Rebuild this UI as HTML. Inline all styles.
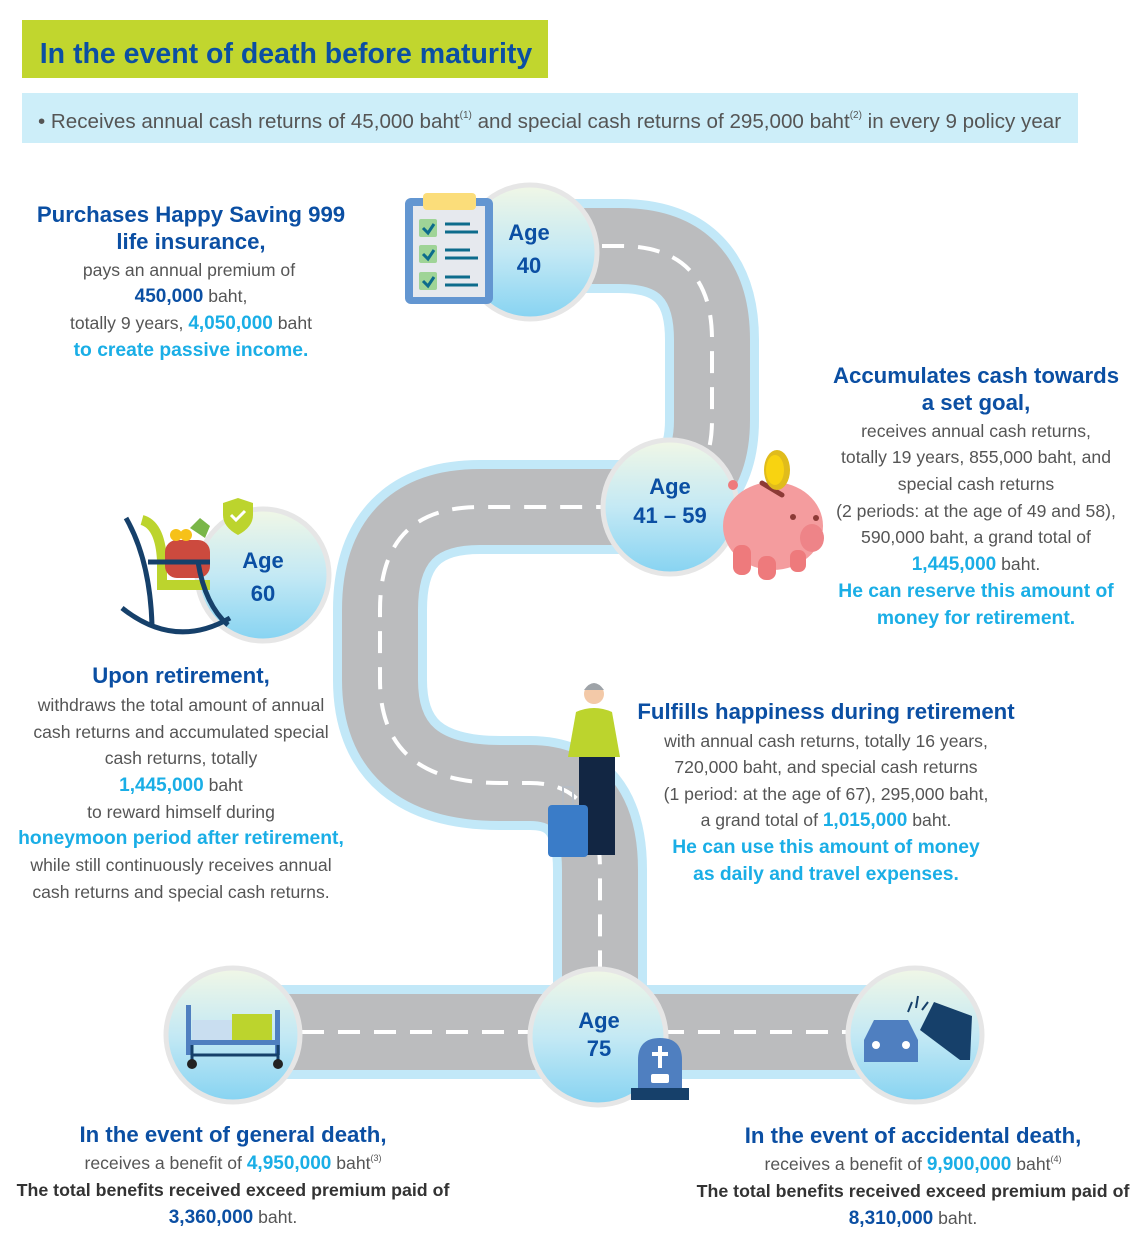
<!DOCTYPE html>
<html><head><meta charset="utf-8">
<style>
html,body{margin:0;padding:0;background:#fff;}
svg{display:block;font-family:"Liberation Sans",sans-serif;}
.h{font-weight:bold;fill:#0b4fa3;font-size:22.2px;}
.g{fill:#555;font-size:17.6px;}
.b{font-weight:bold;fill:#0b4fa3;}
.c{font-weight:bold;fill:#1aaee6;font-size:19.3px;}
.k{font-weight:bold;fill:#333;font-size:17.8px;}
.age{font-weight:bold;fill:#0b4fa3;font-size:22px;}
.n{font-weight:bold;fill:#1aaee6;font-size:19px;}
</style></head>
<body>
<svg width="1140" height="1250" viewBox="0 0 1140 1250">
<defs>
<linearGradient id="cg" x1="0" y1="0" x2="0" y2="1">
<stop offset="0" stop-color="#f1f7e6"/><stop offset="0.5" stop-color="#c4e9f4"/><stop offset="1" stop-color="#86d3f2"/>
</linearGradient>
</defs>
<rect x="22" y="20" width="526" height="58" fill="#c1d62e"/>
<text x="286" y="63" text-anchor="middle" style="font-weight:bold;font-size:28.5px;fill:#0b4fa3">In the event of death before maturity</text>
<rect x="22" y="93" width="1056" height="50" fill="#cdeef9"/>
<text x="38" y="128" style="font-size:20.6px;fill:#555">• Receives annual cash returns of 45,000 baht<tspan font-size="10" dy="-10">(1)</tspan><tspan dy="10"> and special cash returns of 295,000 baht</tspan><tspan font-size="10" dy="-10">(2)</tspan><tspan dy="10"> in every 9 policy year</tspan></text>

<g fill="none" stroke-linejoin="round">
<path id="road" d="M530 246 H620 Q712 246 712 340 V420 Q712 507 620 507 H480 Q380 507 380 610 V680 Q380 783 500 783 H530 Q600 783 600 870 V1032 M230 1032 H950"/>
<use href="#road" stroke="#c2e8f8" stroke-width="94"/>
<use href="#road" stroke="#bbbcbe" stroke-width="76"/>
<use href="#road" stroke="#fff" stroke-width="4" stroke-dasharray="22 14"/>
</g>

<g stroke="#e6e6e6" stroke-width="5" fill="url(#cg)">
<circle cx="530" cy="252" r="67"/>
<circle cx="670" cy="507" r="67"/>
<circle cx="263" cy="575" r="66"/>
<circle cx="598" cy="1037" r="68"/>
<circle cx="233" cy="1035" r="67"/>
<circle cx="915" cy="1035" r="67"/>
</g>
<text x="529" y="240" text-anchor="middle" class="age">Age</text>
<text x="529" y="273" text-anchor="middle" class="age">40</text>
<text x="670" y="494" text-anchor="middle" class="age">Age</text>
<text x="670" y="523" text-anchor="middle" class="age">41 – 59</text>
<text x="263" y="568" text-anchor="middle" class="age">Age</text>
<text x="263" y="601" text-anchor="middle" class="age">60</text>
<text x="599" y="1028" text-anchor="middle" class="age">Age</text>
<text x="599" y="1056" text-anchor="middle" class="age">75</text>

<rect x="405" y="198" width="88" height="106" rx="6" fill="#6396d1"/>
<rect x="413" y="206" width="72" height="91" fill="#e6e9ee"/>
<rect x="423" y="193" width="53" height="17" rx="4" fill="#fbdd7a"/>
<g fill="#9fd497"><rect x="419" y="219" width="18" height="18" rx="2"/><rect x="419" y="245" width="18" height="18" rx="2"/><rect x="419" y="272" width="18" height="18" rx="2"/></g>
<g stroke="#0d6c8c" stroke-width="3" fill="none"><path d="M423 228l5 5 6-9M423 254l5 5 6-9M423 281l5 5 6-9"/>
<path d="M445 224h25M445 232h33M445 250h25M445 258h33M445 277h25M445 285h33"/></g>

<ellipse cx="773" cy="526" rx="50" ry="44" fill="#f49c9e"/>
<rect x="733" y="545" width="18" height="30" rx="8" fill="#ee7a7c"/>
<rect x="758" y="556" width="18" height="24" rx="8" fill="#ee7a7c"/>
<rect x="790" y="550" width="16" height="22" rx="7" fill="#ee7a7c"/>
<ellipse cx="812" cy="538" rx="12" ry="14" fill="#ee8488"/>
<circle cx="793" cy="517" r="3" fill="#8c3a36"/><circle cx="816" cy="518" r="3" fill="#8c3a36"/>
<path d="M762 483 L782 495" stroke="#8c3a36" stroke-width="5" stroke-linecap="round"/>
<ellipse cx="777" cy="470" rx="13" ry="20" fill="#e0bc1c"/><ellipse cx="775" cy="470" rx="9" ry="15" fill="#f8d311"/>
<circle cx="733" cy="485" r="5" fill="#ee7a7c"/>

<path d="M142 520 Q160 525 162 560 V585 H210" stroke="#bcd42d" stroke-width="10" fill="none"/>
<rect x="165" y="540" width="45" height="38" rx="12" fill="#cc4a3e"/>
<circle cx="176" cy="535" r="6" fill="#f6c118"/><circle cx="186" cy="535" r="6" fill="#f6c118"/>
<path d="M190 528 l10-10 10 8 -5 12z" fill="#7ab648"/>
<g stroke="#16406a" stroke-width="5" fill="none">
<path d="M126 518 Q150 560 152 625 M148 562 H210 M198 562 Q205 605 228 625 M122 608 Q175 650 230 618"/>
</g>
<path d="M223 503 l15-5 15 5 v12 q0 12-15 20 q-15-8-15-20z" fill="#bcd42d"/>
<path d="M231 515 l5 5 9-9" stroke="#fff" stroke-width="3" fill="none"/>

<circle cx="594" cy="694" r="10" fill="#f3c9a8"/>
<path d="M584 690 q10-14 20 0" fill="#9ea3a8"/>
<path d="M576 712 q18-8 36 0 l8 45 h-52z" fill="#bcd42d"/>
<rect x="579" y="757" width="36" height="98" fill="#122643"/>
<rect x="548" y="805" width="40" height="52" rx="4" fill="#3a7cc8"/>
<path d="M563 805 v-18 h10 v18" stroke="#b6bcc4" stroke-width="2" fill="none"/>

<rect x="186" y="1005" width="5" height="50" fill="#4f7fc0"/><rect x="275" y="1010" width="5" height="45" fill="#4f7fc0"/>
<rect x="192" y="1020" width="40" height="22" fill="#c9def0"/>
<rect x="232" y="1014" width="40" height="28" fill="#bcd42d"/>
<rect x="186" y="1040" width="94" height="5" fill="#4f7fc0"/>
<path d="M192 1045v15M278 1045v15M192 1055h86" stroke="#16406a" stroke-width="3"/>
<circle cx="192" cy="1064" r="5" fill="#222"/><circle cx="278" cy="1064" r="5" fill="#222"/>

<path d="M864 1062 v-22 l10-20 h34 l10 20 v22z" fill="#4f7fc0"/>
<circle cx="876" cy="1045" r="4" fill="#fff"/><circle cx="906" cy="1045" r="4" fill="#fff"/>
<path d="M920 1030 l14-28 l38 14 -2 44 -10 0z" fill="#16406a"/>
<path d="M908 1012 l4-10 M916 1008 l2-12 M922 1010 l6-8" stroke="#16406a" stroke-width="2"/>

<path d="M638 1090 v-30 q0-22 22-22 q22 0 22 22 v30z" fill="#4f7fc0"/>
<rect x="631" y="1088" width="58" height="12" fill="#16406a"/>
<path d="M660 1046 v22 M652 1054 h16" stroke="#fff" stroke-width="4"/>
<rect x="651" y="1074" width="18" height="9" rx="2" fill="#fff"/>

<g text-anchor="middle">
<text x="191" y="222" class="h">Purchases Happy Saving 999</text>
<text x="191" y="249" class="h">life insurance,</text>
<text x="189" y="276" class="g">pays an annual premium of</text>
<text x="191" y="302" class="g"><tspan class="b" font-size="19">450,000</tspan> baht,</text>
<text x="191" y="329" class="g">totally 9 years, <tspan class="n">4,050,000</tspan> baht</text>
<text x="191" y="356" class="c">to create passive income.</text>

<text x="976" y="383" class="h">Accumulates cash towards</text>
<text x="976" y="410" class="h">a set goal,</text>
<text x="976" y="437" class="g">receives annual cash returns,</text>
<text x="976" y="463" class="g">totally 19 years, 855,000 baht, and</text>
<text x="976" y="490" class="g">special cash returns</text>
<text x="976" y="517" class="g">(2 periods: at the age of 49 and 58),</text>
<text x="976" y="543" class="g">590,000 baht, a grand total of</text>
<text x="976" y="570" class="g"><tspan class="n">1,445,000</tspan> baht.</text>
<text x="976" y="597" class="c">He can reserve this amount of</text>
<text x="976" y="624" class="c">money for retirement.</text>

<text x="181" y="683" class="h">Upon retirement,</text>
<text x="181" y="711" class="g">withdraws the total amount of annual</text>
<text x="181" y="738" class="g">cash returns and accumulated special</text>
<text x="181" y="764" class="g">cash returns, totally</text>
<text x="181" y="791" class="g"><tspan class="n">1,445,000</tspan> baht</text>
<text x="181" y="818" class="g">to reward himself during</text>
<text x="181" y="844" class="c">honeymoon period after retirement,</text>
<text x="181" y="871" class="g">while still continuously receives annual</text>
<text x="181" y="898" class="g">cash returns and special cash returns.</text>

<text x="826" y="719" class="h">Fulfills happiness during retirement</text>
<text x="826" y="747" class="g">with annual cash returns, totally 16 years,</text>
<text x="826" y="773" class="g">720,000 baht, and special cash returns</text>
<text x="826" y="800" class="g">(1 period: at the age of 67), 295,000 baht,</text>
<text x="826" y="826" class="g">a grand total of <tspan class="n">1,015,000</tspan> baht.</text>
<text x="826" y="853" class="c">He can use this amount of money</text>
<text x="826" y="880" class="c">as daily and travel expenses.</text>

<text x="233" y="1142" class="h">In the event of general death,</text>
<text x="233" y="1169" class="g">receives a benefit of <tspan class="n">4,950,000</tspan> baht<tspan font-size="9" dy="-8">(3)</tspan></text>
<text x="233" y="1196" class="k">The total benefits received exceed premium paid of</text>
<text x="233" y="1223" class="g"><tspan class="b" font-size="19">3,360,000</tspan> baht.</text>

<text x="913" y="1143" class="h">In the event of accidental death,</text>
<text x="913" y="1170" class="g">receives a benefit of <tspan class="n">9,900,000</tspan> baht<tspan font-size="9" dy="-8">(4)</tspan></text>
<text x="913" y="1197" class="k">The total benefits received exceed premium paid of</text>
<text x="913" y="1224" class="g"><tspan class="b" font-size="19">8,310,000</tspan> baht.</text>
</g>
</svg>
</body></html>
